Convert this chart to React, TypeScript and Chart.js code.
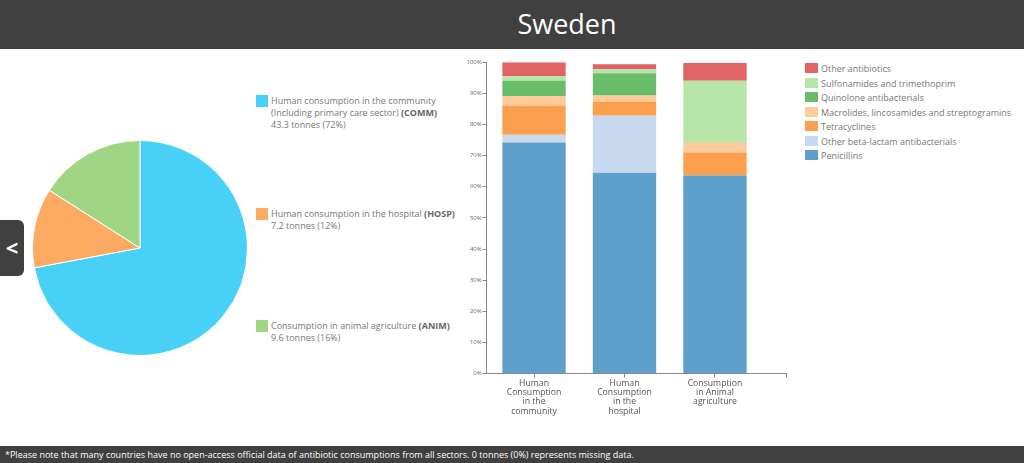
import React, { useEffect, useRef } from "react";
import { Chart, registerables } from "chart.js";
Chart.register(...registerables);

const COUNTRY = "Sweden";
const sectorLabels = ["Human consumption in the community", "Human consumption in the hospital", "Consumption in animal agriculture"];
const sectorCodes = ["COMM", "HOSP", "ANIM"];
const sectorTonnes = [43.3, 7.2, 9.6];
const sectorPercents = [72, 12, 16];
const sectorColors = ["#49d0f6", "#fdaa62", "#a0d683"];

const barCategories = [
  ["Human", "Consumption", "in the", "community"],
  ["Human", "Consumption", "in the", "hospital"],
  ["Consumption", "in Animal", "agriculture"],
];
const classNames = [
  "Penicillins",
  "Other beta-lactam antibacterials",
  "Tetracyclines",
  "Macrolides, lincosamides and streptogramins",
  "Quinolone antibacterials",
  "Sulfonamides and trimethoprim",
  "Other antibiotics",
];
const classColors = ["#5f9fcb", "#c6d9ef", "#fca04f", "#fdcb99", "#6abd68", "#b5e6a7", "#e06366"];
const penicillins = [74.2, 64.5, 63.6];
const otherBetaLactam = [2.5, 18.3, 0];
const tetracyclines = [9.4, 4.5, 7.4];
const macrolides = [3.1, 2.0, 3.2];
const quinolones = [4.9, 7.2, 0.2];
const sulfonamides = [1.4, 1.3, 19.7];
const otherAntibiotics = [4.5, 1.6, 5.7];
const seriesValues = [penicillins, otherBetaLactam, tetracyclines, macrolides, quinolones, sulfonamides, otherAntibiotics];
const yTicks = [0, 10, 20, 30, 40, 50, 60, 70, 80, 90, 100];

const FONT = "'Open Sans', 'DejaVu Sans', sans-serif";

function PieChart() {
  const ref = useRef<HTMLCanvasElement>(null);
  useEffect(() => {
    const chart = new Chart(ref.current!, {
      type: "pie",
      data: {
        labels: sectorLabels,
        datasets: [{ data: sectorTonnes, backgroundColor: sectorColors, borderColor: "#ffffff", borderWidth: 1 }],
      },
      options: {
        animation: false,
        responsive: false,
        plugins: { legend: { display: false }, tooltip: { enabled: false } },
        layout: { padding: 0 },
      },
    });
    return () => chart.destroy();
  }, []);
  return <canvas ref={ref} width={216} height={216} style={{ position: "absolute", left: 32, top: 140 }} />;
}

const endTickPlugin = {
  id: "endTick",
  afterDraw(chart: any) {
    const { ctx, chartArea } = chart;
    ctx.save();
    ctx.strokeStyle = "#888";
    ctx.lineWidth = 1;
    ctx.beginPath();
    ctx.moveTo(Math.round(chartArea.right) + 0.5, chartArea.bottom);
    ctx.lineTo(Math.round(chartArea.right) + 0.5, chartArea.bottom + 4);
    ctx.stroke();
    ctx.restore();
  },
};

function BarChart() {
  const ref = useRef<HTMLCanvasElement>(null);
  useEffect(() => {
    const chart = new Chart(ref.current!, {
      type: "bar",
      data: {
        datasets: classNames.map((name, i) => ({
          label: name,
          data: seriesValues[i].map((v, j) => ({ x: j, y: v })),
          backgroundColor: classColors[i],
          borderWidth: 0,
          barPercentage: 0.7,
          categoryPercentage: 1,
        })),
      },
      plugins: [endTickPlugin],
      options: {
        animation: false,
        responsive: false,
        layout: { padding: { top: 12.3, right: 14, left: 0, bottom: 0 } },
        plugins: { legend: { display: false }, tooltip: { enabled: false } },
        scales: {
          x: {
            type: "linear",
            stacked: true,
            offset: false,
            min: -0.523,
            max: 2.785,
            afterBuildTicks: (scale: any) => {
              scale.ticks = [{ value: 0 }, { value: 1 }, { value: 2 }];
            },
            afterFit: (scale: any) => {
              scale.height = 48.5;
            },
            ticks: {
              autoSkip: false,
              maxRotation: 0,
              padding: 1,
              color: "#555",
              font: { family: FONT, size: 8.7, lineHeight: 1.07 },
              callback: (v: any) => (barCategories[v as number] ? barCategories[v as number] : ""),
            },
            grid: { offset: false, drawOnChartArea: false, color: "#888", tickLength: 4, tickColor: "#888" },
            border: { color: "#888", width: 1 },
          },
          y: {
            stacked: true,
            min: 0,
            max: 100,
            afterBuildTicks: (scale: any) => {
              scale.ticks = yTicks.map((v) => ({ value: v }));
            },
            afterFit: (scale: any) => {
              scale.width = 56.7;
            },
            ticks: {
              color: "#666",
              padding: 1,
              font: { family: FONT, size: 6 },
              callback: (v: any) => v + "%",
            },
            grid: { offset: false, drawOnChartArea: false, color: "#888", tickLength: 4, tickColor: "#888" },
            border: { color: "#888", width: 1 },
          },
        },
      },
    });
    return () => chart.destroy();
  }, []);
  return <canvas ref={ref} width={370} height={372} style={{ position: "absolute", left: 430, top: 50 }} />;
}

export default function App() {
  const legendTop = [95, 208, 320];
  const reversed = classNames.map((n, i) => i).reverse();
  return (
    <div style={{ position: "fixed", left: 0, top: 0, width: 1024, height: 463, overflow: "hidden", background: "#fff", fontFamily: FONT }}>
      <div style={{ position: "absolute", left: 0, top: 0, width: 1024, height: 49, background: "#404040" }} />
      <div style={{ position: "absolute", left: 467, top: 5, width: 200, textAlign: "center", color: "#fff", fontSize: 27, lineHeight: "38px" }}>{COUNTRY}</div>
      <PieChart />
      {sectorLabels.map((label, i) => (
        <div key={i} style={{ position: "absolute", left: 256, top: legendTop[i], fontSize: 9, color: "#777", lineHeight: "12px", whiteSpace: "nowrap" }}>
          <div style={{ position: "absolute", left: 0, top: 0, width: 12, height: 12, background: sectorColors[i] }} />
          <div style={{ marginLeft: 15 }}>
            {i === 0 ? (
              <>
                {label}
                <br />
                (Including primary care sector) <b style={{ color: "#666" }}>({sectorCodes[i]})</b>
              </>
            ) : (
              <>
                {label} <b style={{ color: "#666" }}>({sectorCodes[i]})</b>
              </>
            )}
            <br />
            {sectorTonnes[i]} tonnes ({sectorPercents[i]}%)
          </div>
        </div>
      ))}
      <BarChart />
      {reversed.map((idx, k) => (
        <div key={idx} style={{ position: "absolute", left: 805, top: 62 + k * 14.5, height: 13, fontSize: 9, color: "#777", lineHeight: "13px", whiteSpace: "nowrap" }}>
          <span style={{ position: "absolute", left: 0, top: 1, width: 13, height: 10, background: classColors[idx] }} />
          <span style={{ marginLeft: 16 }}>{classNames[idx]}</span>
        </div>
      ))}
      <div style={{ position: "absolute", left: 0, top: 220, width: 24, height: 56, background: "#404040", borderRadius: "0 6px 6px 0", color: "#fff", fontSize: 22, fontWeight: "bold", lineHeight: "54px", textAlign: "center" }}>&lt;</div>
      <div style={{ position: "absolute", left: 0, top: 446, width: 1024, height: 17, background: "#404040", color: "#fff", fontSize: 9, lineHeight: "17px", paddingLeft: 5, boxSizing: "border-box", whiteSpace: "nowrap" }}>
        *Please note that many countries have no open-access official data of antibiotic consumptions from all sectors. 0 tonnes (0%) represents missing data.
      </div>
    </div>
  );
}
